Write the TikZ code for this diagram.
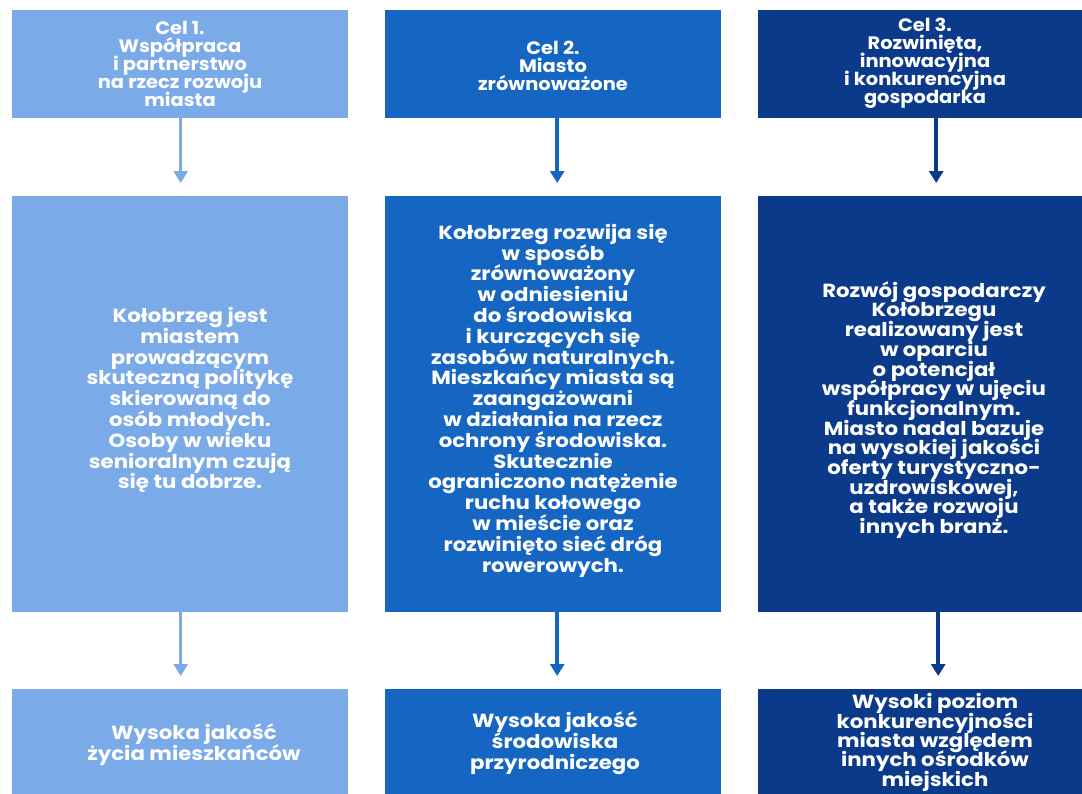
\documentclass[tikz,border=0pt]{standalone}
\usepackage{fontspec}
\setmainfont{Poppins}
\newfontfamily\popM{Poppins}[FakeStretch=1.12]
\newfontfamily\popT{Poppins}[FakeStretch=1.08]
\newcommand\tightls{\lineskiplimit=-100pt\relax}
\usetikzlibrary{arrows.meta}
\definecolor{cA}{RGB}{122,170,232}
\definecolor{cB}{RGB}{21,102,194}
\definecolor{cC}{RGB}{12,58,138}
\begin{document}
\begin{tikzpicture}[x=1pt,y=-1pt,
  box/.style={draw=none,minimum width=336pt,minimum height=#1,inner sep=0pt,anchor=north west},
  txt/.style={text=white,align=center,inner sep=0pt},
  small/.style={txt,font=\popT\bfseries\fontsize{18}{18}\selectfont\tightls},
  big/.style={txt,font=\popM\bfseries\fontsize{19}{20.8}\selectfont\tightls},
  bigc/.style={txt,font=\popM\bfseries\fontsize{19}{19.7}\selectfont\tightls},
  bigd/.style={txt,font=\popM\bfseries\fontsize{19}{19.3}\selectfont\tightls},
  arr/.style={line width=3.5pt,-{Triangle[width=14pt,length=12pt]},shorten >=13pt}]
\useasboundingbox (0,0) rectangle (1082,793);
\clip (0,0) rectangle (1082,793);
\fill[white] (0,0) rectangle (1082,793);
% boxes
\node[box=108pt,fill=cA] (t1) at (12,10) {};
\node[box=108pt,fill=cB] (t2) at (385,10) {};
\node[box=108pt,fill=cC] (t3) at (758,10) {};
\node[box=416pt,fill=cA] (m1) at (12,196) {};
\node[box=416pt,fill=cB] (m2) at (385,196) {};
\node[box=416pt,fill=cC] (m3) at (758,196) {};
\node[box=108pt,fill=cA] (b1) at (12,689) {};
\node[box=108pt,fill=cB] (b2) at (385,689) {};
\node[box=108pt,fill=cC] (b3) at (758,689) {};
% arrows
\draw[arr,cA] ([xshift=0.5pt]t1.south) -- ([xshift=0.5pt]m1.north);
\draw[arr,cB] ([xshift=4pt]t2.south) -- ([xshift=4pt]m2.north);
\draw[arr,cC] ([xshift=10pt]t3.south) -- ([xshift=10pt]m3.north);
\draw[arr,cA] ([xshift=0.5pt]m1.south) -- ([xshift=0.5pt]b1.north);
\draw[arr,cB] ([xshift=4pt]m2.south) -- ([xshift=4pt]b2.north);
\draw[arr,cC] ([xshift=12pt]m3.south) -- ([xshift=12pt]b3.north);
% texts
\node[small] (tt1) at (180,63.5) {Cel 1.\\Współpraca\\i partnerstwo\\na rzecz rozwoju\\miasta};
\node[small] (tt2) at (553,66) {Cel 2.\\Miasto\\zrównoważone};
\node[small] (tt3) at (925,63) {Cel 3.\\Rozwinięta,\\innowacyjna\\i konkurencyjna\\gospodarka};
\node[big] (mt1) at (190,400) {Kołobrzeg jest\\miastem\\prowadzącym\\skuteczną politykę\\skierowaną do\\osób młodych.\\Osoby w wieku\\senioralnym czują\\się tu dobrze.};
\node[big] (mt2) at (553,400.5) {Kołobrzeg rozwija się\\w sposób\\zrównoważony\\w odniesieniu\\do środowiska\\i kurczących się\\zasobów naturalnych.\\Mieszkańcy miasta są\\zaangażowani\\w działania na rzecz\\ochrony środowiska.\\Skutecznie\\ograniczono natężenie\\ruchu kołowego\\w mieście oraz\\rozwinięto sieć dróg\\rowerowych.};
\node[bigc] (mt3) at (934,410) {Rozwój gospodarczy\\Kołobrzegu\\realizowany jest\\w oparciu\\o potencjał\\współpracy w ujęciu\\funkcjonalnym.\\Miasto nadal bazuje\\na wysokiej jakości\\oferty turystyczno-\\uzdrowiskowej,\\a także rozwoju\\innych branż.};
\node[big] (bt1) at (194,744.5) {Wysoka jakość\\życia mieszkańców};
\node[big] (bt2) at (555,743) {Wysoka jakość\\środowiska\\przyrodniczego};
\node[bigd] (bt3) at (935,742.5) {Wysoki poziom\\konkurencyjności\\miasta względem\\innych ośrodków\\miejskich};
\end{tikzpicture}
\end{document}
